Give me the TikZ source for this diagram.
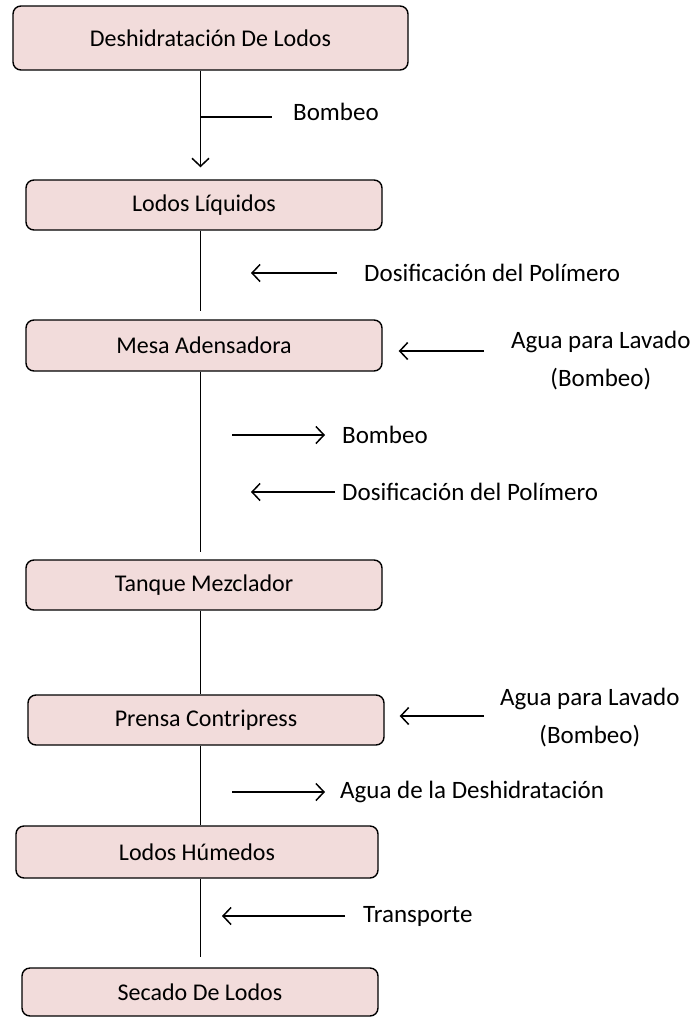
\documentclass[tikz,border=0pt]{standalone}
\usepackage{fontspec}
\setmainfont{Carlito}
\usepackage{tikz}
\usetikzlibrary{arrows.meta}
\definecolor{boxpink}{RGB}{242,220,219}

\begin{document}
\begin{tikzpicture}[x=1pt,y=-1pt]
\tikzstyle{every node}=[font=\fontsize{24}{38}\selectfont]
\tikzstyle{stage}=[draw, line width=1.4pt, rounded corners=8pt, fill=boxpink, minimum width=356pt, minimum height=50pt, inner sep=0pt]
\tikzstyle{note}=[anchor=west, inner sep=0pt, font=\fontsize{25}{38}\selectfont]
\tikzstyle{feed}=[line width=1.5pt]
\tikzstyle{flow}=[feed, -{Straight Barb[length=8pt,width=17pt]}]
\useasboundingbox (0,0) rectangle (696,1018);
\coordinate (spine) at (200.5,0);
% etapas del proceso
\node (deshid) [stage, minimum width=395pt, minimum height=64pt] at (210.5,38) {Deshidratación De Lodos};
\node (liq) [stage] at (204,205) {Lodos Líquidos};
\node (mesa) [stage, minimum height=51pt] at (204,345.5) {Mesa Adensadora};
\node (tanque) [stage] at (204,585) {Tanque Mezclador};
\node (prensa) [stage] at (206,720) {Prensa Contripress};
\node (humedos) [stage, minimum width=362pt, minimum height=52pt] at (197,852) {Lodos Húmedos};
\node (secado) [stage, minimum height=48pt] at (200,992) {Secado De Lodos};
% linea principal
\draw[flow, shorten >=12pt] (deshid.south -| spine) -- (liq.north -| spine);
\draw[feed, shorten >=8pt] (liq.south -| spine) -- (mesa.north -| spine);
\draw[feed, shorten >=7pt] (mesa.south -| spine) -- (tanque.north -| spine);
\draw[feed] (tanque.south -| spine) -- (prensa.north -| spine);
\draw[feed] (prensa.south -| spine) -- (humedos.north -| spine);
\draw[feed, shorten >=10pt] (humedos.south -| spine) -- (secado.north -| spine);
% entradas y salidas
\node (bomb0) [note] at (293,112) {Bombeo};
\coordinate (t0) at (200.5,117);
\draw[feed, shorten >=21pt] (t0) -- (t0 -| bomb0.west);

\node (dos1) [note] at (364,273) {Dosificación del Polímero};
\coordinate (h1) at (251,273);
\draw[flow, shorten <=27pt] (dos1.west) -- (h1);

\node (agua1) [note, align=center] at (511,361) {Agua para Lavado\\(Bombeo)};
\coordinate (k2) at (484,351);
\draw[flow, shorten >=16pt] (k2) -- (k2 -| mesa.east);

\node (bomb1) [note] at (342,435) {Bombeo};
\coordinate (k3) at (232,435);
\draw[flow, shorten >=17pt] (k3) -- (bomb1.west);

\node (dos2) [note] at (342,492) {Dosificación del Polímero};
\coordinate (h4) at (251,492);
\draw[flow, shorten <=7pt] (dos2.west) -- (h4);

\node (agua2) [note, align=center] at (500,718) {Agua para Lavado\\(Bombeo)};
\coordinate (k5) at (484,716);
\draw[flow, shorten >=15pt] (k5) -- (k5 -| prensa.east);

\node (agdesh) [note] at (340,792) {Agua de la Deshidratación};
\coordinate (k6) at (232,792);
\draw[flow, shorten >=15pt] (k6) -- (agdesh.west);

\node (transp) [note] at (363,916) {Transporte};
\coordinate (h7) at (222,916);
\draw[flow, shorten <=18pt] (transp.west) -- (h7);
\end{tikzpicture}
\end{document}
